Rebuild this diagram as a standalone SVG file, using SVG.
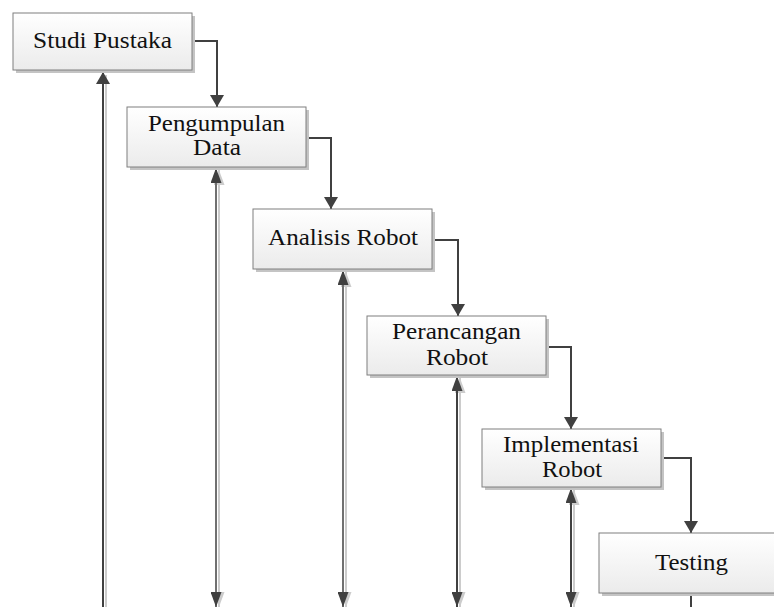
<svg xmlns="http://www.w3.org/2000/svg" width="774" height="607" viewBox="0 0 774 607">
<style>
.box{fill:url(#g);stroke:#7f7f7f;stroke-width:1}
.sh{fill:#c4c4c4}
.t{font-family:"Liberation Serif","Times New Roman",serif;font-size:23px;fill:#111111}
.c{fill:none;stroke:#404040;stroke-width:2}
.fd{fill:none;stroke:#404040;stroke-width:2}
.fg{fill:none;stroke:#707070;stroke-width:2}
.fs{fill:none;stroke:#cccccc;stroke-width:2}
</style>
<defs>
<linearGradient id="g" x1="0" y1="0" x2="0" y2="1">
<stop offset="0" stop-color="#ffffff"/>
<stop offset="1" stop-color="#ebebeb"/>
</linearGradient>
<marker id="a" viewBox="0 0 12 14" refX="12" refY="7" markerWidth="12" markerHeight="14" markerUnits="userSpaceOnUse" orient="auto">
<path d="M0,0 L12,7 L0,14 z" fill="#404040"/>
</marker>
<marker id="s" viewBox="0 0 15 11" refX="15" refY="5.5" markerWidth="15" markerHeight="11" markerUnits="userSpaceOnUse" orient="auto-start-reverse">
<path d="M0,0 L15,5.5 L0,11 z" fill="#404040"/>
</marker>
<marker id="ss" viewBox="0 0 15 11" refX="15" refY="5.5" markerWidth="15" markerHeight="11" markerUnits="userSpaceOnUse" orient="auto-start-reverse">
<path d="M0,0 L15,5.5 L0,11 z" fill="#cccccc"/>
</marker>
</defs>
<g id="connectors">
<path class="fs" d="M106,607 V75" />
<path class="fd" d="M103,607 V72" marker-end="url(#a)"/>
<path class="fs" d="M219,170 V607" marker-start="url(#ss)" marker-end="url(#ss)"/>
<path class="fg" d="M216,168 V607" marker-start="url(#s)" marker-end="url(#s)"/>
<path class="fs" d="M346,272 V607" marker-start="url(#ss)" marker-end="url(#ss)"/>
<path class="fg" d="M343,270 V607" marker-start="url(#s)" marker-end="url(#s)"/>
<path class="fs" d="M460,378 V607" marker-start="url(#ss)" marker-end="url(#ss)"/>
<path class="fd" d="M457,376 V607" marker-start="url(#s)" marker-end="url(#s)"/>
<path class="fs" d="M574,490 V607" marker-start="url(#ss)" marker-end="url(#ss)"/>
<path class="fd" d="M571,488 V607" marker-start="url(#s)" marker-end="url(#s)"/>
<path class="c" d="M192,41 H217 V107" marker-end="url(#a)"/>
<path class="c" d="M306,138 H331 V209" marker-end="url(#a)"/>
<path class="c" d="M432,240 H458 V316" marker-end="url(#a)"/>
<path class="c" d="M546,347 H571 V429" marker-end="url(#a)"/>
<path class="c" d="M661,458 H691 V533" marker-end="url(#a)"/>
<path class="c" d="M691,593 V607"/>
</g>
<g id="studi-pustaka">
<rect class="sh" x="16" y="16" width="179" height="57"/>
<rect class="box" x="13" y="13" width="179" height="57"/>
<text class="t" x="33" y="48" textLength="139" lengthAdjust="spacingAndGlyphs">Studi Pustaka</text>
</g>
<g id="pengumpulan-data">
<rect class="sh" x="130" y="110" width="179" height="60"/>
<rect class="box" x="127" y="107" width="179" height="60"/>
<text class="t" x="148" y="131" textLength="137" lengthAdjust="spacingAndGlyphs">Pengumpulan</text>
<text class="t" x="193" y="155" textLength="48" lengthAdjust="spacingAndGlyphs">Data</text>
</g>
<g id="analisis-robot">
<rect class="sh" x="256" y="212" width="179" height="60"/>
<rect class="box" x="253" y="209" width="179" height="60"/>
<text class="t" x="268" y="245" textLength="150" lengthAdjust="spacingAndGlyphs">Analisis Robot</text>
</g>
<g id="perancangan-robot">
<rect class="sh" x="370" y="319" width="179" height="59"/>
<rect class="box" x="367" y="316" width="179" height="59"/>
<text class="t" x="392" y="339" textLength="129" lengthAdjust="spacingAndGlyphs">Perancangan</text>
<text class="t" x="426" y="365" textLength="62" lengthAdjust="spacingAndGlyphs">Robot</text>
</g>
<g id="implementasi-robot">
<rect class="sh" x="485" y="432" width="179" height="58"/>
<rect class="box" x="482" y="429" width="179" height="58"/>
<text class="t" x="503" y="452" textLength="136" lengthAdjust="spacingAndGlyphs">Implementasi</text>
<text class="t" x="542" y="477" textLength="60" lengthAdjust="spacingAndGlyphs">Robot</text>
</g>
<g id="testing">
<rect class="sh" x="602" y="536" width="179" height="60"/>
<rect class="box" x="599" y="533" width="179" height="60"/>
<text class="t" x="655" y="570" textLength="73" lengthAdjust="spacingAndGlyphs">Testing</text>
</g>
</svg>
